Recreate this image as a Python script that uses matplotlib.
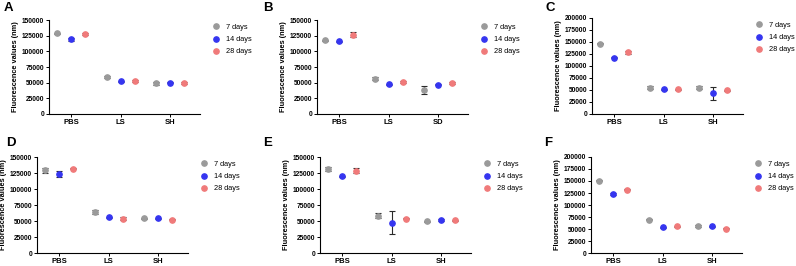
import numpy as np
import matplotlib.pyplot as plt
from matplotlib.lines import Line2D

plt.rcParams["font.family"] = ["Liberation Sans", "DejaVu Sans"]

series = ["7 days", "14 days", "28 days"]
colors = ["#9a9a9a", "#3535f0", "#f07a7a"]

panels = ["A", "B", "C", "D", "E", "F"]
groups = {
    "A": ["PBS", "LS", "SH"],
    "B": ["PBS", "LS", "SD"],
    "C": ["PBS", "LS", "SH"],
    "D": ["PBS", "LS", "SH"],
    "E": ["PBS", "LS", "SH"],
    "F": ["PBS", "LS", "SH"],
}
ymax = {"A": 150000, "B": 150000, "C": 200000, "D": 150000, "E": 150000, "F": 200000}

# mean per group for [7 days, 14 days, 28 days]
means = {
    "A": [[129000, 119000, 128000], [58500, 52000, 53000], [49000, 50000, 49500]],
    "B": [[117500, 116000, 126500], [56500, 47500, 51000], [38000, 47000, 49500]],
    "C": [[146500, 117500, 128500], [55000, 52000, 52000], [55000, 43000, 49000]],
    "D": [[129000, 123500, 132000], [63500, 55500, 53500], [54500, 54000, 52000]],
    "E": [[131000, 120000, 128500], [58000, 47500, 53500], [49500, 51500, 51000]],
    "F": [[151000, 123500, 132000], [69000, 53500, 55500], [56500, 55500, 51000]],
}
errs = {
    "A": [[800, 1800, 1800], [1500, 1000, 1800], [2000, 1000, 1000]],
    "B": [[800, 1000, 4000], [2500, 1000, 1000], [6000, 1000, 1000]],
    "C": [[800, 1500, 2500], [3000, 1000, 1000], [3000, 13000, 2000]],
    "D": [[3500, 4500, 1000], [3000, 1000, 2000], [800, 1000, 1000]],
    "E": [[3000, 1000, 4000], [4000, 18000, 1000], [800, 1000, 1000]],
    "F": [[800, 2000, 1000], [1000, 1000, 1000], [1500, 1000, 1000]],
}

# axes positions in pixels: left, top of axis, bottom of axis
pos = {
    "A": (49, 20, 114), "B": (317, 20, 114), "C": (592, 18, 114),
    "D": (37, 157, 253), "E": (320, 157, 253), "F": (591, 157, 253),
}
letter_pos = {"A": (4, 8), "B": (263, 8), "C": (546, 8),
              "D": (6, 143), "E": (263, 143), "F": (544, 143)}

W, H = 796, 266
fig = plt.figure(figsize=(W / 100, H / 100), dpi=100)

offsets = [-0.28, 0.0, 0.28]
for p in panels:
    left, top, bottom = pos[p]
    ax = fig.add_axes([left / W, 1 - bottom / H, 151 / W, (bottom - top) / H])
    m = np.array(means[p])
    e = np.array(errs[p])
    x = np.arange(len(groups[p]))
    for j, s in enumerate(series):
        ax.errorbar(x + offsets[j], m[:, j], yerr=e[:, j], fmt="o", ms=3.8,
                    color=colors[j], mec=colors[j], ecolor="#2a2a2a",
                    elinewidth=0.8, capsize=2, capthick=0.8, zorder=3)
    ax.set_xlim(-0.45, 2.6)
    ax.set_ylim(0, ymax[p])
    ax.set_yticks(np.arange(0, ymax[p] + 1, 25000))
    ax.set_xticks(x)
    ax.set_xticklabels(groups[p], fontweight="bold", fontsize=5.5)
    ax.tick_params(axis="y", labelsize=4.8)
    ax.tick_params(length=2, width=0.7, pad=1.5)
    for lab in ax.get_yticklabels():
        lab.set_fontweight("bold")
    ax.spines["top"].set_visible(False)
    ax.spines["right"].set_visible(False)
    ax.spines["left"].set_linewidth(0.8)
    ax.spines["bottom"].set_linewidth(0.8)
    ax.set_ylabel("Fluorescence values (nm)", fontsize=5.3, fontweight="bold", labelpad=2)
    handles = [Line2D([], [], ls="", marker="o", ms=3.8, color=c) for c in colors]
    ax.legend(handles, series, loc="upper left", bbox_to_anchor=(1.06, 1.0),
              frameon=False, fontsize=5.3, handletextpad=0.8, labelspacing=0.7,
              handlelength=1.0, borderaxespad=0.1)
    lx, ly = letter_pos[p]
    fig.text(lx / W, 1 - ly / H, p, fontsize=9.5, fontweight="bold", va="center")

fig.savefig("out.png", dpi=100)
